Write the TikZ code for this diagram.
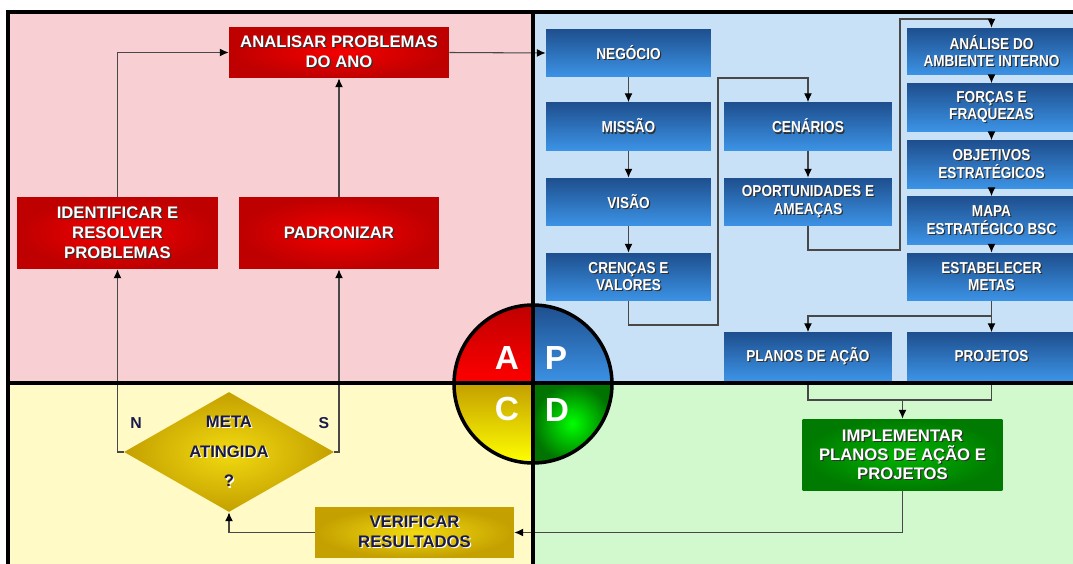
\documentclass[tikz,border=0pt]{standalone}
\usepackage{fontspec}
\setmainfont{Liberation Sans}
\newfontfamily\narrowfont[FakeStretch=0.86]{Liberation Sans}
\usetikzlibrary{shapes.geometric,arrows.meta}

\definecolor{pinkbg}{HTML}{F8CFD2}
\definecolor{bluebg}{HTML}{C9E1F7}
\definecolor{yellowbg}{HTML}{FFFAC6}
\definecolor{greenbg}{HTML}{D2F8CE}
\definecolor{redin}{HTML}{F40000}
\definecolor{redout}{HTML}{BE0000}
\definecolor{bluetop}{HTML}{1E4F8E}
\definecolor{bluebot}{HTML}{3C93E6}
\definecolor{greenin}{HTML}{00B400}
\definecolor{greenout}{HTML}{007A00}
\definecolor{goldin}{HTML}{F2DA10}
\definecolor{goldout}{HTML}{C4A000}
\definecolor{linec}{HTML}{484848}
\definecolor{shadowc}{HTML}{303030}
\definecolor{navytext}{HTML}{1A1A4A}

% white text with a dark shadow, and dark text with a white one
\newcommand{\shw}[1]{\leavevmode\rlap{\kern0.7pt\raisebox{-0.7pt}{\textcolor{shadowc}{#1}}}\textcolor{white}{#1}}
\newcommand{\shd}[1]{\leavevmode\rlap{\kern0.7pt\raisebox{-0.7pt}{\textcolor{white}{#1}}}\textcolor{navytext}{#1}}

\tikzset{
  box/.style={rectangle, inner sep=0pt, align=center,
    font=\bfseries\fontsize{9.5}{11.4}\selectfont},
  redbox/.style={box, inner color=redin, outer color=redout,
    minimum width=4cm, minimum height=1.44cm},
  bluebox/.style={box, top color=bluetop, bottom color=bluebot,
    minimum width=3.3cm, minimum height=0.96cm,
    font=\narrowfont\bfseries\fontsize{9}{10}\selectfont},
  greenbox/.style={box, inner color=greenin, outer color=greenout,
    minimum width=4cm, minimum height=1.44cm,
    font=\bfseries\fontsize{9.5}{10.8}\selectfont},
  goldbox/.style={box, inner color=goldin, outer color=goldout},
  flow/.style={draw=linec, line width=0.6pt,
    -{Latex[length=5pt, width=4.5pt, color=black]}},
  link/.style={draw=linec, line width=0.6pt},
  frame/.style={draw=black, line width=2pt},
  letter/.style={text=white, font=\bfseries\fontsize{19}{19}\selectfont}
}

\begin{document}
\begin{tikzpicture}[x=0.02cm, y=-0.02cm]
\useasboundingbox (0,0) rectangle (1073,564);
\clip (0,0) rectangle (1073,564);

% quadrants
\fill[pinkbg] (8,12) rectangle (533,383);
\fill[bluebg] (533,12) rectangle (1080,383);
\fill[yellowbg] (8,383) rectangle (533,570);
\fill[greenbg] (533,383) rectangle (1080,570);

% A
\node[redbox, minimum width=4.4cm, minimum height=1.02cm] (ana) at (339,52.5)
  {\shw{ANALISAR PROBLEMAS}\\\shw{DO ANO}};
\node[redbox, minimum width=4.02cm] (ide) at (117.5,233)
  {\shw{IDENTIFICAR E}\\\shw{RESOLVER}\\\shw{PROBLEMAS}};
\node[redbox] (pad) at (339,233) {\shw{PADRONIZAR}};

% P
\node[bluebox] (neg) at (628.5,53) {\shw{NEGÓCIO}};
\node[bluebox] (mis) at (628.5,126.5) {\shw{MISSÃO}};
\node[bluebox] (vis) at (628.5,202) {\shw{VISÃO}};
\node[bluebox] (cre) at (628.5,277) {\shw{CRENÇAS E}\\\shw{VALORES}};
\node[bluebox, minimum width=3.36cm] (cen) at (808,126.5) {\shw{CENÁRIOS}};
\node[bluebox, minimum width=3.36cm] (opo) at (808,202)
  {\shw{OPORTUNIDADES E}\\\shw{AMEAÇAS}};
\node[bluebox, minimum width=3.38cm, minimum height=0.94cm] (anl) at (991.5,51.5)
  {\shw{ANÁLISE DO}\\\shw{AMBIENTE INTERNO}};
\node[bluebox, minimum width=3.38cm] (for) at (991.5,107.5)
  {\shw{FORÇAS E}\\\shw{FRAQUEZAS}};
\node[bluebox, minimum width=3.38cm] (obj) at (991.5,164.5)
  {\shw{OBJETIVOS}\\\shw{ESTRATÉGICOS}};
\node[bluebox, minimum width=3.38cm] (map) at (991.5,220.5)
  {\shw{MAPA}\\\shw{ESTRATÉGICO BSC}};
\node[bluebox, minimum width=3.38cm] (est) at (991.5,277)
  {\shw{ESTABELECER}\\\shw{METAS}};
\node[bluebox, minimum width=3.36cm] (pla) at (808,356.5) {\shw{PLANOS DE AÇÃO}};
\node[bluebox, minimum width=3.38cm] (pro) at (991.5,356.5) {\shw{PROJETOS}};

% D
\node[greenbox] (imp) at (902.5,455)
  {\shw{IMPLEMENTAR}\\\shw{PLANOS DE AÇÃO E}\\\shw{PROJETOS}};

% C
\node[goldbox, minimum width=3.98cm, minimum height=1.02cm] (ver) at (414.5,532.5)
  {\shd{VERIFICAR}\\\shd{RESULTADOS}};
\node[goldbox, diamond, aspect=1.75, minimum width=4.2cm, minimum height=2.4cm]
  (dec) at (229,452) {\shd{META}\\[5.5pt]\shd{ATINGIDA}\\[5.5pt]\shd{?}};
\node[text=navytext, font=\bfseries\fontsize{9}{10}\selectfont] (nlab) at (136,423) {N};
\node[text=navytext, font=\bfseries\fontsize{9}{10}\selectfont] (slab) at (324,423) {S};

% connectors
\draw[flow] (ide.north) |- (ana.west);
\draw[flow] (pad) -- (ana);
\draw[flow] (ana.east) -- (neg.west);
\draw[flow] (neg) -- (mis);
\draw[flow] (mis) -- (vis);
\draw[flow] (vis) -- (cre);
\coordinate (c1) at (718,325);
\coordinate (c2) at (718,78);
\draw[flow] (cre.south) |- (c1) -- (c2) -| (cen.north);
\draw[flow] (cen) -- (opo);
\coordinate (o1) at (900,250);
\coordinate (o2) at (900,19);
\draw[flow] (opo.south) |- (o1) -- (o2) -| (anl.north);
\draw[flow] (anl) -- (for);
\draw[flow] (for) -- (obj);
\draw[flow] (obj) -- (map);
\draw[flow] (map) -- (est);
\draw[flow] (est) -- (pro);
\coordinate (e1) at (991.5,316);
\draw[flow] (e1) -| (pla.north);
\coordinate (j1) at (902.5,400);
\draw[link] (pla.south) |- (j1);
\draw[link] (pro.south) |- (j1);
\draw[flow] (j1) -- (imp.north);
\draw[flow] (imp.south) |- (ver.east);
\draw[flow] (ver.west) -| (dec.south);
\draw[flow] (dec.west) -| (ide.south);
\draw[flow] (dec.east) -| (pad.south);

% PDCA circle
\coordinate (o) at (533,384);
\fill[top color=red!75!black, bottom color=red]
  (o) -- ++(180:1.58cm) arc[start angle=180, end angle=90, radius=1.58cm] -- cycle;
\fill[top color=bluetop, bottom color=bluebot]
  (o) -- ++(90:1.58cm) arc[start angle=90, end angle=0, radius=1.58cm] -- cycle;
\fill[inner color=green, outer color=green!45!black]
  (o) -- ++(0:1.58cm) arc[start angle=0, end angle=-90, radius=1.58cm] -- cycle;
\fill[top color=goldout, bottom color=yellow]
  (o) -- ++(-90:1.58cm) arc[start angle=-90, end angle=-180, radius=1.58cm] -- cycle;

% frame
\draw[frame] (8,570) -- (8,12) -- (1080,12);
\draw[frame] (533,12) -- (533,570);
\draw[frame] (8,383) -- (1080,383);
\draw[frame] (o) circle[radius=1.58cm];

\node[letter] (la) at (507,358) {A};
\node[letter] (lp) at (556,358) {P};
\node[letter] (lc) at (507,409) {C};
\node[letter] (ld) at (557,410) {D};
\end{tikzpicture}
\end{document}
